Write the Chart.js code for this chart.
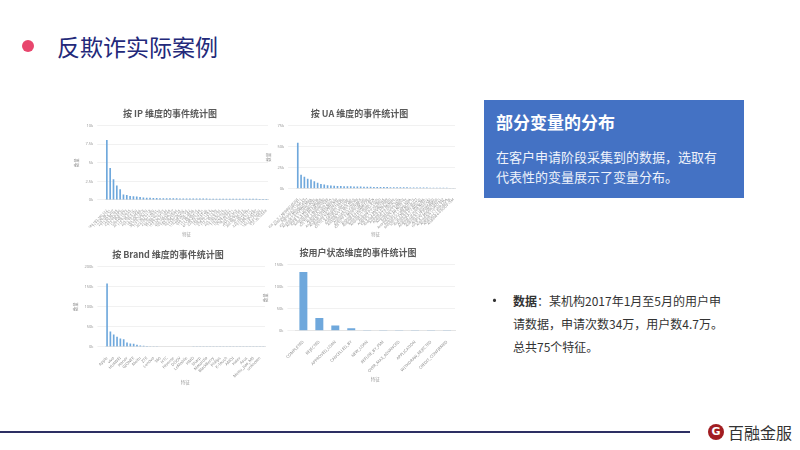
<!DOCTYPE html>
<html>
<head>
<meta charset="utf-8">
<script src="https://cdn.jsdelivr.net/npm/chart.js@4"></script>
<style>
  body { margin: 0; width: 800px; height: 450px; background: #fff; position: relative; overflow: hidden; font-family: "Noto Sans CJK SC", "Noto Sans", sans-serif; }
  .abs { position: absolute; }
  #dot { left: 22px; top: 40px; width: 12px; height: 12px; border-radius: 50%; background: #e8466d; }
  #pageTitle { left: 57px; top: 30px; font-size: 23px; line-height: 32px; color: #23297a; white-space: nowrap; }
  #box { left: 484px; top: 100px; width: 260px; height: 98px; background: #4472c4; }
  #boxTitle { left: 496px; top: 110px; font-size: 17px; line-height: 24px; font-weight: bold; color: #fff; white-space: nowrap; }
  #boxText { left: 496px; top: 147px; font-size: 13px; line-height: 20px; color: #eef2fb; white-space: nowrap; }
  #bullet { left: 487px; top: 288px; font-size: 15px; line-height: 23px; color: #333; }
  #note { left: 513px; top: 289px; font-size: 12px; line-height: 23px; color: #333; white-space: nowrap; }
  #rule { left: 0; top: 431px; width: 690px; height: 2px; background: #2d2f63; }
  #logo { left: 708px; top: 424px; width: 16px; height: 16px; border-radius: 50%; background: #a11d21; color: #fff; font: bold 11px/16px "DejaVu Sans", sans-serif; text-align: center; }
  #brand { left: 728px; top: 421px; font-size: 16px; line-height: 22px; color: #333; white-space: nowrap; }
  canvas { position: absolute; }
</style>
</head>
<body>
<div class="abs" id="dot"></div>
<div class="abs" id="pageTitle">反欺诈实际案例</div>

<canvas id="chartIp" width="202" height="134" style="left:70px;top:104px"></canvas>
<canvas id="chartUa" width="197" height="134" style="left:262px;top:104px"></canvas>
<canvas id="chartBrand" width="200" height="141" style="left:69px;top:245px"></canvas>
<canvas id="chartStatus" width="200" height="140" style="left:259px;top:243px"></canvas>

<div class="abs" id="box"></div>
<div class="abs" id="boxTitle">部分变量的分布</div>
<div class="abs" id="boxText">在客户申请阶段采集到的数据，选取有<br>代表性的变量展示了变量分布。</div>

<div class="abs" id="bullet">•</div>
<div class="abs" id="note"><b>数据</b>：某机构2017年1月至5月的用户申<br>请数据，申请次数34万，用户数4.7万。<br>总共75个特征。</div>

<div class="abs" id="rule"></div>
<div class="abs" id="logo">G</div>
<div class="abs" id="brand">百融金服</div>

<script>
// 按 IP 维度
const ipLabels = ["183.192.160.122","117.136.38.141","223.104.5.207","112.97.56.188","223.104.63.94","117.136.81.40","120.229.19.73","221.178.126.35","117.136.0.212","223.104.3.150",
  "112.17.244.66","183.206.172.9","36.110.109.170","117.136.79.118","223.104.17.200","211.97.129.51","58.246.22.170","112.96.110.203","117.136.31.144","223.104.20.68",
  "120.239.66.127","183.16.200.84","42.236.10.125","113.57.28.202","116.228.92.154","223.104.1.82","117.136.40.36","112.65.48.214","61.148.244.148","223.73.147.21",
  "183.62.57.26","124.202.179.3","218.17.157.76","117.136.12.79","223.104.9.194","14.153.52.216","110.52.210.43","106.39.229.62","119.123.72.11","223.104.34.9",
  "117.136.62.154","202.96.134.133","27.38.24.66","223.104.25.177","113.88.13.126","117.136.45.97","183.14.134.230","59.41.160.30","121.35.102.68"];
const ipCounts = [8100,4300,2800,1950,1450,720,650,520,480,450,
  380,330,300,280,260,250,240,230,225,220,
  215,210,205,200,200,195,190,190,185,180,
  180,175,175,170,170,165,165,160,160,155,
  155,150,150,150,145,145,140,140,140];

// 按 UA 维度
const uaLabels = ["iOS 10_3_1 Mobile/14E304","Android 7.1.1 OPPO R11","Android 6.0.1 vivo X9","iOS 10_2_1 Mobile/14D27","Android 7.0 HUAWEI MHA",
  "Android 5.1.1 OPPO A59s","iOS 9_3_5 Mobile/13G36","Android 6.0 MI 5 MIUI/8","Android 7.0 SM-G9550","iOS 10_3_2 Mobile/14F89",
  "Android 5.1 vivo Y51A","Android 6.0 Redmi Note 4","Android 7.0 HUAWEI NXT","Android 6.0.1 OPPO R9s","iOS 10_0_2 Mobile/14A456",
  "Android 5.1 m3 note","Android 6.0 PRO 6 Plus","Android 7.1.2 MI 6 MIUI","Android 6.0.1 vivo X9i","Android 4.4.4 Coolpad 8",
  "iOS 10_1_1 Mobile/14B100","Android 5.1.1 SM-J7008","Android 6.0 HUAWEI CAZ","Android 7.0 Honor BLN","Android 5.1 OPPO R7sm",
  "Android 6.0 Le X620","Android 7.1.1 OnePlus5","iOS 9_3_2 Mobile/13F69","Android 6.0.1 SM-C7000","Android 5.0.2 Mi Note",
  "Android 7.0 FRD-AL10","Android 6.0 vivo Y67A","Android 5.1 GN8003","Android 6.0.1 MI NOTE LTE","Android 7.1.1 vivo X20A",
  "Android 4.4.2 HM NOTE 1S","iOS 10_3 Mobile/14E277","Android 6.0 ZTE BV0720","Android 5.1.1 Meitu M6","Android 7.0 nubia NX531J",
  "Android 6.0 Lenovo K52","Android 5.1 Hisense M20","Android 7.0 SM-N9500","iOS 8_4_1 Mobile/12H321","Android 6.0.1 OPPO A57",
  "Android 7.1.1 vivo Y75A","Android 5.1 KOOBEE S8","Android 6.0 DOOV L5M"];
const uaCounts = [54800,16700,14300,11900,11000,8700,7100,5600,4800,4000,
  3600,3300,3100,3000,2900,2800,2700,2600,2500,2400,
  2300,2200,2100,2000,1950,1900,1850,1800,1750,1700,
  1650,1600,1550,1500,1450,1400,1350,1300,1250,1200,
  1150,1100,1050,1000,950,900,850,800];

// 按 Brand 维度
const brandLabels = ["Apple","OPPO","vivo","Xiaomi","HUAWEI","Meizu","Honor","samsung","GIONEE","Letv",
  "Meitu","nubia","ZTE","Coolpad","Lenovo","smartisan","360","OnePlus","HTC","Sony",
  "Hisense","Xiaolajiao","DOOV","KOOBEE","LeMobile","SUGAR","HMD","CMDC","Sharp","Nokia",
  "Motorola","LG","BlackBerry","TCL","Philips","Changhong","K-Touch","Bird","AMOI","ZUK",
  "Haier","Hasee","Asus","Google","Meitu_Jiao_M6","Microsoft","unknown","Ramos"];
const brandCounts = [158000,38000,31000,25000,21000,18600,11000,8500,7600,5000,
  3400,2600,2000,1600,1300,1100,950,850,750,650,
  600,550,500,450,420,400,380,350,330,300,
  280,260,240,220,200,190,180,170,160,150,
  140,130,120,110,100,90,80,70];

// 按用户状态维度
const statusLabels = ["COMPLETED","REJECTED","APPROVED_LOAN","CANCELLED_BY","NEW_LOAN",
  "REFUSE_BY_FSM","OVER_MAX_ADVANCED","APPLICATION","WITHDRAW_REJECTED","CREDIT_CONFIRMED"];
const statusCounts = [133700,29000,11600,5400,300,200,150,100,80,50];

const kTick = (v) => (v / 1000) + "k";

const buildChart = (id, title, labels, values, opt) => {
  return new Chart(document.getElementById(id), {
    type: "bar",
    data: {
      labels: labels,
      datasets: [{
        data: values,
        backgroundColor: "#6fa8dc",
        barPercentage: opt.bar,
        categoryPercentage: 1,
      }],
    },
    options: {
      responsive: false,
      animation: false,
      layout: { padding: { left: 2, right: 4, top: 0, bottom: 0 } },
      plugins: {
        legend: { display: false },
        tooltip: { enabled: false },
        title: {
          display: true,
          text: title,
          color: "#5a5a5a",
          font: { family: "Noto Sans CJK SC", size: 9 },
          padding: { top: 4, bottom: 7 },
        },
      },
      scales: {
        x: {
          grid: { display: false },
          border: { color: "#e4e4e4" },
          ticks: {
            autoSkip: false,
            maxRotation: 45,
            minRotation: 45,
            padding: 1,
            color: "#8a8a8a",
            font: { family: "Noto Sans", size: opt.tickSize },
            callback(v, i) {
              if (opt.everyOther && i % 2 === 1) return "";
              return labels[i];
            },
          },
          title: { display: true, text: "特征", color: "#999", font: { family: "Noto Sans CJK SC", size: 4.5 }, padding: { top: opt.titleGap, bottom: 1 } },
        },
        y: {
          min: 0,
          max: opt.max,
          border: { display: false },
          grid: { color: "#e8e8e8", lineWidth: 0.6 },
          ticks: { stepSize: opt.step, callback: kTick, color: "#999", font: { family: "Noto Sans", size: 4 }, padding: 4 },
          title: { display: true, text: "数量", color: "#999", font: { family: "Noto Sans CJK SC", size: 4.5 }, padding: 2 },
        },
      },
    },
  });
};

buildChart("chartIp", "按 IP 维度的事件统计图", ipLabels, ipCounts, { max: 10000, step: 2500, bar: 0.5, tickSize: 3.3, titleGap: 1 });
buildChart("chartUa", "按 UA 维度的事件统计图", uaLabels, uaCounts, { max: 75000, step: 25000, bar: 0.5, tickSize: 3.3, titleGap: 1 });
buildChart("chartBrand", "按 Brand 维度的事件统计图", brandLabels, brandCounts, { max: 200000, step: 50000, bar: 0.5, tickSize: 4, titleGap: 0, everyOther: true });
buildChart("chartStatus", "按用户状态维度的事件统计图", statusLabels, statusCounts, { max: 150000, step: 50000, bar: 0.5, tickSize: 4, titleGap: 2 });
</script>
</body>
</html>
